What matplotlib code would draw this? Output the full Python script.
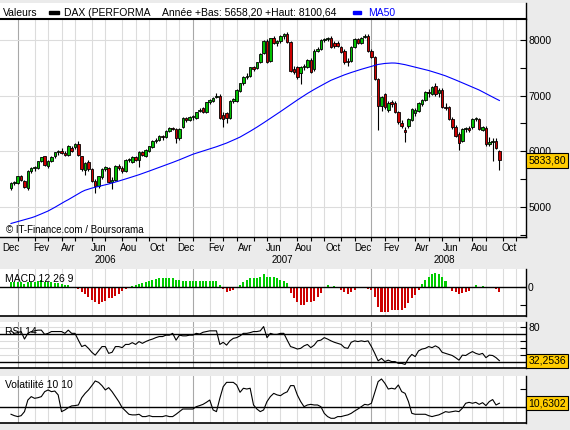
import numpy as np
import pandas as pd
import matplotlib
matplotlib.use('Agg')
import matplotlib.pyplot as plt
import matplotlib.transforms as mtransforms
from matplotlib.patches import Rectangle

plt.rcParams['font.family'] = ['Liberation Sans', 'DejaVu Sans']

# weekly DAX candles, first week starts Monday 2005-12-19
first_week = '2005-12-19'
opens = [5340, 5420, 5425, 5555, 5465, 5330, 5650, 5690, 5700, 5820,
         5905, 5740, 5820, 5905, 5990, 6000, 5970, 5925, 6060, 6070,
         6130, 5905, 5670, 5800, 5675, 5470, 5380, 5530, 5680, 5700,
         5450, 5480, 5740, 5700, 5650, 5845, 5810, 5900, 5840, 5990,
         5920, 6000, 6080, 6190, 6210, 6280, 6250, 6370, 6420, 6400,
         6230, 6440, 6600, 6560, 6610, 6600, 6720, 6770, 6700, 6880,
         6900, 6980, 7000, 6650, 6680, 6600, 6900, 6910, 7090, 7220,
         7340, 7360, 7510, 7500, 7600, 7770, 7990, 7630, 8040, 7940,
         7980, 8070, 8110, 7960, 7480, 7510, 7400, 7510, 7510, 7640,
         7480, 7810, 7840, 8000, 8020, 8040, 7950, 7950, 7870, 7810,
         7620, 7630, 7870, 8010, 7940, 8060, 8080, 7810, 7700, 7300,
         6820, 7020, 6740, 6880, 6860, 6700, 6500, 6380, 6460, 6560,
         6680, 6720, 6850, 6920, 7060, 7030, 7170, 7040, 7100, 6800,
         6790, 6580, 6430, 6310, 6190, 6400, 6420, 6430, 6570, 6570,
         6380, 6420, 6130, 6160, 6190, 6010]
highs = [5440, 5460, 5560, 5580, 5490, 5665, 5720, 5740, 5830, 5900,
         5920, 5835, 5920, 5990, 6030, 6050, 6000, 6110, 6090, 6150,
         6175, 5920, 5800, 5840, 5700, 5500, 5560, 5700, 5740, 5720,
         5530, 5760, 5770, 5740, 5860, 5880, 5910, 5920, 6000, 6010,
         6040, 6100, 6200, 6240, 6290, 6300, 6380, 6440, 6440, 6420,
         6420, 6610, 6620, 6630, 6650, 6710, 6780, 6790, 6890, 6940,
         6970, 7040, 7030, 6700, 6700, 6920, 6950, 7110, 7230, 7350,
         7400, 7520, 7540, 7610, 7760, 8000, 8020, 8040, 8070, 8000,
         8090, 8120, 8150, 7990, 7530, 7540, 7530, 7560, 7660, 7670,
         7830, 7870, 8010, 8040, 8060, 8070, 7980, 7980, 7890, 7830,
         7680, 7890, 8030, 8040, 8050, 8100, 8100, 7830, 7720, 7320,
         7000, 7050, 6900, 6920, 6900, 6730, 6560, 6440, 6600, 6780,
         6780, 6880, 6940, 7080, 7110, 7180, 7230, 7140, 7130, 6860,
         6820, 6620, 6470, 6340, 6420, 6440, 6460, 6590, 6620, 6600,
         6460, 6450, 6260, 6240, 6230, 6020]
lows = [5310, 5390, 5410, 5460, 5330, 5310, 5600, 5650, 5680, 5800,
        5740, 5700, 5800, 5880, 5940, 5950, 5910, 5910, 5980, 6040,
        5920, 5640, 5580, 5650, 5440, 5250, 5340, 5500, 5640, 5420,
        5320, 5460, 5660, 5600, 5630, 5800, 5790, 5820, 5720, 5910,
        5900, 5980, 6060, 6150, 6180, 6200, 6230, 6350, 6380, 6150,
        6210, 6420, 6530, 6540, 6560, 6580, 6700, 6680, 6690, 6850,
        6880, 6950, 6570, 6440, 6500, 6580, 6860, 6890, 7070, 7190,
        7300, 7340, 7440, 7470, 7580, 7740, 7580, 7600, 7920, 7900,
        7950, 8020, 7940, 7430, 7380, 7300, 7210, 7460, 7490, 7400,
        7450, 7780, 7820, 7970, 7990, 7850, 7860, 7880, 7760, 7560,
        7540, 7610, 7850, 7920, 7920, 8030, 7790, 7680, 7280, 6385,
        6720, 6760, 6700, 6800, 6680, 6480, 6420, 6160, 6420, 6540,
        6640, 6700, 6820, 6900, 6980, 7010, 7000, 6980, 6780, 6740,
        6560, 6400, 6260, 6030, 6160, 6340, 6340, 6400, 6540, 6380,
        6360, 6100, 6100, 5830, 6040, 5665]
closes = [5425, 5440, 5545, 5485, 5350, 5650, 5690, 5710, 5815, 5890,
          5760, 5820, 5890, 5980, 6010, 5960, 5930, 6100, 6010, 6130,
          5935, 5685, 5785, 5685, 5460, 5380, 5545, 5685, 5720, 5445,
          5480, 5740, 5700, 5650, 5845, 5860, 5890, 5840, 5990, 5930,
          6030, 6090, 6190, 6210, 6280, 6250, 6370, 6420, 6400, 6230,
          6400, 6600, 6560, 6620, 6630, 6700, 6740, 6700, 6880, 6920,
          6960, 7000, 6590, 6580, 6590, 6910, 6930, 7100, 7220, 7340,
          7360, 7510, 7470, 7600, 7750, 7990, 7600, 8030, 7940, 7980,
          8070, 8100, 7960, 7450, 7420, 7340, 7510, 7540, 7640, 7430,
          7810, 7840, 8000, 8020, 8040, 7870, 7900, 7900, 7780, 7600,
          7600, 7870, 8020, 7940, 8030, 8080, 7810, 7700, 7300, 6820,
          6980, 6790, 6860, 6840, 6700, 6520, 6460, 6340, 6580, 6760,
          6740, 6860, 6920, 7060, 7040, 7160, 7020, 7100, 6800, 6780,
          6580, 6430, 6280, 6140, 6400, 6420, 6380, 6570, 6590, 6400,
          6440, 6130, 6160, 6190, 6060, 5833.80]
ma50 = [4700, 4717, 4734, 4751, 4768, 4785, 4802, 4822, 4846, 4872,
        4898, 4924, 4956, 4990, 5026, 5062, 5096, 5128, 5164, 5200,
        5236, 5270, 5298, 5318, 5336, 5352, 5366, 5380, 5394, 5410,
        5427, 5445, 5463, 5481, 5500, 5519, 5538, 5557, 5577, 5598,
        5620, 5642, 5664, 5686, 5708, 5730, 5752, 5775, 5798, 5821,
        5845, 5870, 5896, 5922, 5945, 5964, 5983, 6002, 6021, 6040,
        6059, 6080, 6102, 6124, 6146, 6172, 6198, 6226, 6254, 6288,
        6322, 6358, 6394, 6432, 6470, 6510, 6550, 6590, 6630, 6670,
        6712, 6754, 6796, 6838, 6879, 6920, 6960, 7000, 7038, 7075,
        7110, 7144, 7177, 7210, 7243, 7275, 7300, 7325, 7350, 7373,
        7395, 7415, 7435, 7455, 7473, 7490, 7508, 7526, 7543, 7560,
        7570, 7578, 7583, 7586, 7585, 7578, 7568, 7556, 7541, 7525,
        7511, 7496, 7482, 7467, 7451, 7433, 7414, 7395, 7375, 7355,
        7331, 7306, 7281, 7256, 7230, 7204, 7178, 7152, 7126, 7100,
        7069, 7037, 7005, 6973, 6942, 6912]
macd_hist = [28, 28, 28, 25, 15, 24, 24, 28, 31, 37,
             24, 24, 24, 19, 19, 13, 9, 9, 0, 0,
             -13, -28, -41, -56, -74, -87, -96, -87, -80, -65,
             -65, -50, -43, -24, -13, 0, 5, 10, 15, 20,
             25, 31, 37, 43, 46, 50, 50, 50, 46, 37,
             37, 33, 33, 33, 31, 33, 31, 33, 31, 33,
             31, 30, 10, -13, -31, -24, -18, -6, 9, 24,
             35, 46, 50, 50, 56, 70, 56, 52, 52, 46,
             37, 31, 18, -33, -65, -87, -102, -102, -87, -83,
             -80, -59, -37, -9, 9, 0, 6, -9, -18, -28,
             -43, -31, -18, -9, -9, 0, -13, -18, -59, -111,
             -139, -143, -139, -130, -130, -130, -130, -120, -93, -65,
             -46, -18, 13, 37, 56, 69, 74, 69, 56, 31,
             0, -24, -31, -43, -37, -31, -24, 0, 9, 0,
             6, -6, -6, -6, -13, -31]
rsi14 = [74, 70.5, 71.5, 73, 62.5, 70.5, 73, 74, 75, 75,
         69, 70.5, 73, 73, 73, 73, 70.5, 75, 70.5, 70.5,
         61, 52, 54, 49.5, 44, 40, 46, 52, 52, 42.5,
         44, 52, 52, 50.5, 55, 55, 57.5, 55, 59, 56.5,
         59, 61, 62.5, 64.5, 66, 66, 68, 68, 70.5, 61,
         68, 67, 67, 68, 68, 70.5, 69.5, 72, 73, 74,
         74, 74, 55, 58, 54, 60, 63.5, 64.5, 67, 70.5,
         70.5, 71.5, 73, 73, 74, 80, 64.5, 70.5, 69, 69,
         70.5, 70.5, 61, 52, 50.5, 48.6, 49.5, 53, 55, 50.5,
         54, 60, 61, 64.5, 62.5, 60, 58, 56.5, 55, 50.5,
         49.5, 58, 60, 59, 60, 59, 60, 52, 42.5, 32,
         35.5, 31, 33, 31, 31, 28.5, 28.5, 27, 35.5, 41,
         38, 46, 48.5, 49.5, 52, 50.5, 53, 50.5, 44, 42.5,
         41, 39.5, 36.5, 33, 40, 39.5, 42.5, 45, 42.5, 41,
         42.5, 36.5, 40, 39.5, 36.5, 32.2536]
volat = [3.5, 2.6, 2.0, 2.6, 5.2, 12.7, 14.9, 13.8, 14.2, 14.9,
         18.1, 19.2, 18.1, 18.5, 16, 5.2, 6.3, 7.8, 8.9, 9.1,
         9.5, 14.2, 17, 19.2, 22, 25, 24.1, 22, 19.2, 20.7,
         18.1, 14.9, 11.7, 7.8, 5.6, 3.5, 3.1, 3.1, 3.5, 2.0,
         2.0, 2.6, 2.0, 2.0, 2.0, 2.0, 2.6, 2.0, 2.0, 3.5,
         5.2, 6.9, 6.9, 6.9, 6.9, 8.4, 9.1, 9.9, 11.2, 12.7,
         6.3, 5.2, 13.8, 21.3, 24.1, 24.1, 24.1, 22.4, 17.7, 20.3,
         19.8, 20.3, 9.5, 6.9, 5.2, 6.3, 11.7, 14.9, 17, 16,
         15.5, 17, 18, 22, 22, 16, 11.7, 8.4, 9.5, 9.9,
         9.5, 9.5, 8.4, 4.1, 2.0, 0.9, 0.9, 2.0, 2.0, 2.6,
         3.1, 4.1, 5.6, 6.9, 8.4, 9.9, 9.5, 10.6, 17.7, 24.6,
         26.3, 23.5, 19.8, 20.3, 19.8, 22.4, 18.1, 17, 11.7, 4.1,
         3.5, 3.5, 3.5, 3.5, 2.6, 2.0, 2.6, 3.1, 4.1, 5.2,
         4.8, 5.2, 5.6, 5.2, 7.4, 10.6, 11.2, 10.6, 11.2, 9.9,
         11, 9.1, 11.7, 13, 9.5, 10.6302]

month_names = {2: 'Fev', 4: 'Avr', 6: 'Jun', 8: 'Aou', 10: 'Oct', 12: 'Dec'}
last_price = '5833,80'
rsi_last = '32,2536'
vol_last = '10,6302'
header_info = 'Année +Bas: 5658,20 +Haut: 8100,64'

W, H = 570, 430
BG = '#ebebeb'
GREEN = '#00c000'
RED = '#cc0000'
GRID = '#dcdcdc'
YEARGRID = '#a8a8a8'
YELLOW = '#ffcc00'


def box(x0, y0, x1, y1):
    # pixel box (top-left origin) -> figure fraction
    return [x0 / W, 1 - y1 / H, (x1 - x0) / W, (y1 - y0) / H]


fig = plt.figure(figsize=(W / 100, H / 100), dpi=100, facecolor=BG)

k = np.arange(len(closes))
weeks = pd.date_range('2005-11-28', '2009-01-31', freq='W-MON')
wk = np.arange(len(weeks)) - list(weeks).index(pd.Timestamp(first_week))
months = np.asarray(weeks.month)
years = np.asarray(weeks.year)
new_month = np.r_[False, months[1:] != months[:-1]]
starts = wk[new_month]
start_months = months[new_month]
start_years = years[new_month]
xmin, xmax = -3.27, 152.9
vis = (starts >= 0) & (starts <= xmax)


def setup(a):
    a.set_xlim(xmin, xmax)
    a.set_facecolor('white')
    a.spines['left'].set_visible(False)
    a.spines['top'].set_visible(False)
    a.spines['right'].set_linewidth(1)
    a.spines['bottom'].set_linewidth(1.2)
    a.yaxis.tick_right()
    a.tick_params(axis='y', which='both', direction='in', length=4, width=0.8,
                  labelsize=7.5, pad=1.5)
    a.tick_params(axis='x', bottom=False, labelbottom=False)
    for s, m in zip(starts[vis], start_months[vis]):
        a.axvline(s, color=YEARGRID if m == 1 else GRID, lw=0.8, zorder=0)


def value_box(a, val, txt):
    a.annotate(txt, xy=(1, val), xycoords=('axes fraction', 'data'),
               xytext=(2.5, 0), textcoords='offset pixels', ha='left', va='center',
               fontsize=7.5, annotation_clip=False, zorder=10,
               bbox=dict(boxstyle='square,pad=0.2', fc=YELLOW, ec='black', lw=0.8))


# header strip
axh = fig.add_axes(box(0, 3, 526, 19.3))
axh.set_xlim(0, 526)
axh.set_ylim(16.3, 0)
axh.set_xticks([])
axh.set_yticks([])
for sp in ['left', 'top', 'bottom']:
    axh.spines[sp].set_visible(False)
axh.spines['right'].set_linewidth(1)
ty = 9.7
axh.text(3, ty, 'Valeurs', fontsize=7.5, va='center')
axh.add_patch(Rectangle((49.3, 8.5), 10, 2.6, color='black'))
axh.text(64.3, ty, 'DAX (PERFORMA', fontsize=7.5, va='center')
axh.text(161.7, ty, header_info, fontsize=7.5, va='center')
axh.add_patch(Rectangle((352.7, 8.5), 8.3, 2.6, color='#0000ff'))
axh.text(367.7, ty, 'MA50', fontsize=7.5, va='center', color='#0000ff')

# price panel
ax = fig.add_axes(box(0, 19.3, 526, 236.7))
setup(ax)
ax.set_ylim(4462, 8372)
ax.spines['top'].set_visible(True)
ax.spines['top'].set_linewidth(1.5)
ax.spines['bottom'].set_linewidth(1)
ax.set_yticks([5000, 6000, 7000, 8000])
ax.set_yticks([4500, 5500, 6500, 7500], minor=True)
ax.set_yticklabels([], minor=True)
for lev in [5000, 6000, 7000, 8000]:
    ax.axhline(lev, color=GRID, lw=0.8, zorder=0)

o = np.array(opens)
c = np.array(closes)
up = c >= o
ax.vlines(k, lows, highs, color='black', lw=0.8, zorder=2)
ax.bar(k, np.maximum(np.abs(c - o), 12), bottom=np.minimum(o, c), width=0.75,
       color=np.where(up, GREEN, RED), edgecolor='black', linewidth=0.6, zorder=3)
ax.plot(k, ma50, color='#0000ff', lw=0.8, zorder=4)
value_box(ax, closes[-1], last_price)

# month ticks and labels
ax.set_xticks(starts[vis])
ax.tick_params(axis='x', which='major', bottom=True, direction='out', length=3,
               width=0.8, labelbottom=False)
centers = (starts[:-1] + starts[1:]) / 2
lab = np.isin(start_months[:-1], list(month_names)) & (centers >= xmin) & (centers <= xmax)
ax.set_xticks(centers[lab], minor=True)
ax.set_xticklabels([month_names[m] for m in start_months[:-1][lab]], minor=True)
ax.tick_params(axis='x', which='minor', bottom=True, length=0, labelsize=7, pad=4.5,
               labelbottom=True)

trans = mtransforms.blended_transform_factory(ax.transData, fig.transFigure)
jan = starts[start_months == 1]
jan_years = start_years[start_months == 1]
last_vis = starts[vis].max()
for a0, a1, yr in zip(jan[:-1], jan[1:], jan_years[:-1]):
    ax.text((a0 + min(a1, last_vis)) / 2, 1 - 260 / H, str(yr), transform=trans,
            ha='center', va='center', fontsize=7)

fig.text(6 / W, 1 - 230 / H, '© IT-Finance.com / Boursorama', fontsize=7, va='center')

# MACD panel
axm = fig.add_axes(box(0, 269.3, 526, 316))
setup(axm)
axm.set_ylim(-162.8, 96.7)
mh = np.array(macd_hist)
axm.bar(k, mh, width=0.6, color=np.where(mh >= 0, '#00cc00', RED), lw=0, zorder=2)
axm.axhline(0, color='black', lw=1, zorder=3)
axm.set_yticks([0, -100])
axm.set_yticklabels(['0', ''])

# RSI panel
axr = fig.add_axes(box(0, 321.7, 526, 368.3))
setup(axr)
axr.set_ylim(21.6, 86.8)
for lev in [40, 50, 60, 80]:
    axr.axhline(lev, color=GRID, lw=0.8, zorder=0)
for lev in [30, 70]:
    axr.axhline(lev, color='black', lw=1, zorder=2)
axr.plot(k, rsi14, color='black', lw=0.8, zorder=3)
axr.set_yticks([80, 60, 50, 40])
axr.set_yticklabels(['80', '', '', ''])
value_box(axr, rsi14[-1], rsi_last)

# volatility panel
axv = fig.add_axes(box(0, 375.7, 526, 422.7))
setup(axv)
axv.set_ylim(-1.94, 28.4)
axv.axhline(8, color='black', lw=1, zorder=2)
axv.plot(k, volat, color='black', lw=0.8, zorder=3)
axv.set_yticks([20])
axv.set_yticklabels([''])
value_box(axv, volat[-1], vol_last)

fig.text(5 / W, 1 - 278.5 / H, 'MACD 12 26 9', fontsize=7.5, va='center')
fig.text(5 / W, 1 - 331.7 / H, 'RSI 14', fontsize=7.5, va='center')
fig.text(5 / W, 1 - 385 / H, 'Volatilité 10 10', fontsize=7.5, va='center')

fig.savefig('out.png', dpi=100, facecolor=BG)
